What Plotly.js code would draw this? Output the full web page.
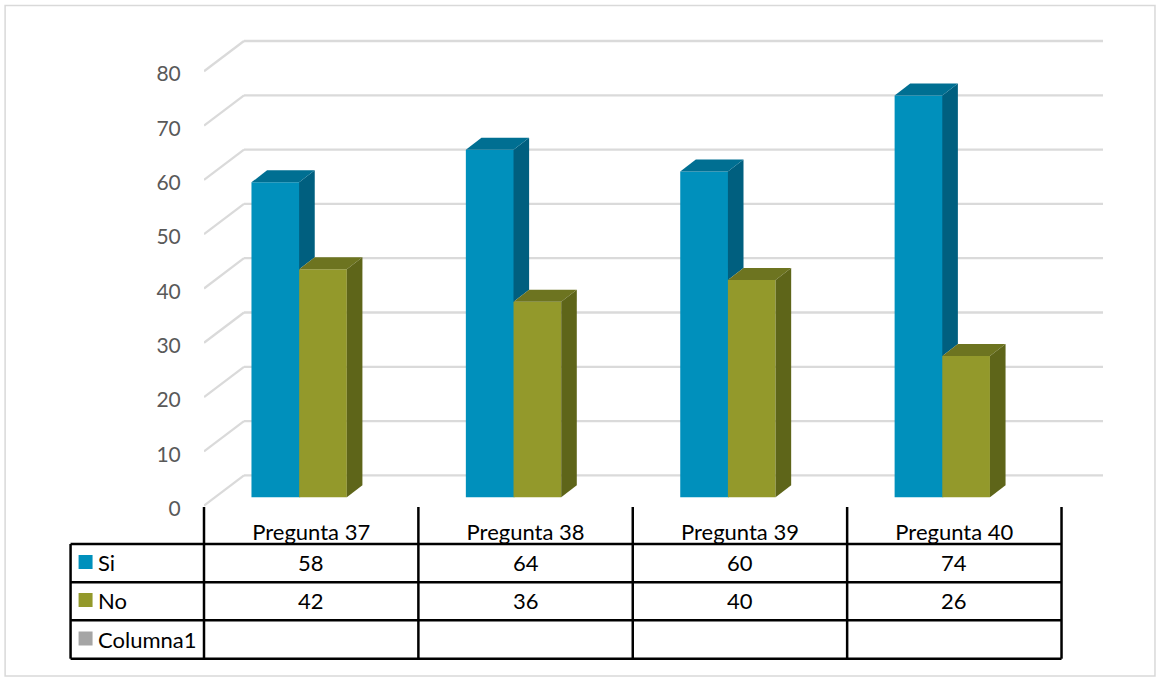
<!DOCTYPE html>
<html>
<head>
<meta charset="utf-8">
<script src="https://cdn.plot.ly/plotly-3.0.1.min.js"></script>
<style>html,body{margin:0;padding:0;background:#fff}#chart{width:1156px;height:677px}</style>
</head>
<body>
<div id="chart"></div>
<script>
// Survey answers per question
const categories = ['Pregunta 37', 'Pregunta 38', 'Pregunta 39', 'Pregunta 40'];
const si = [58, 64, 60, 74];
const no = [42, 36, 40, 26];
const yTicks = [0, 10, 20, 30, 40, 50, 60, 70, 80];
const tableRows = ['Si', 'No', 'Columna1'];

// Plot frame in page pixels
const W = 1156, H = 677;
const frame = {l: 203.5, r: 1103, t: 30, b: 512};
const tableTop = 507;
const pxPerCat = 214.5, pxPerUnit = 5.43;
const barZeroPx = 497.3;

const xRange = [-0.5, -0.5 + (frame.r - frame.l) / pxPerCat];
const yRange = [(barZeroPx - frame.b) / pxPerUnit, (barZeroPx - frame.t) / pxPerUnit];
const frontZeroPx = 505.7;   // where the front end of the zero gridline sits
const labelZeroPx = 508.5;   // baseline for the value-axis labels
const y2Range = [(labelZeroPx - frame.b) / pxPerUnit, (labelZeroPx - frame.t) / pxPerUnit];

const paperY = p => (frame.b - p) / (frame.b - frame.t);
const paperX = p => (p - frame.l) / (frame.r - frame.l);

// Pseudo-3D depth of the columns, in axis units
const dx = 15.6 / pxPerCat, dy = 12 / pxPerUnit;
const barW = 47.7 / pxPerCat;
const siOffset = -59.75 / pxPerCat, noOffset = siOffset + barW;

const colors = {
  si: {front: '#0090BC', top: '#006F92', side: '#005F7F'},
  no: {front: '#93992B', top: '#6D7420', side: '#5E6519'},
  blank: '#A5A5A5'
};

function face(xs, ys, color) {
  return {type: 'scatter', mode: 'lines', x: xs, y: ys, fill: 'toself', fillcolor: color,
          line: {width: 0, color: color}, hoverinfo: 'skip', showlegend: false};
}

const traces = [
  {type: 'bar', name: 'Si', x: categories.map((_, i) => i), y: si, offset: siOffset, width: barW + 1 / pxPerCat,
   marker: {color: colors.si.front, line: {width: 0}}},
  {type: 'bar', name: 'No', x: categories.map((_, i) => i), y: no, offset: noOffset, width: barW,
   marker: {color: colors.no.front, line: {width: 0}}},
  {type: 'scatter', x: [], y: [], yaxis: 'y2', showlegend: false, hoverinfo: 'skip'}
];

categories.forEach((_, i) => {
  const a = i + siOffset, b = a + barW, c = b + barW;
  const s = si[i], n = no[i];
  // The blue side panel stops where the neighbouring column starts hiding it
  traces.push(face([b, b + dx, b + dx, b, b], [s, s + dy, n + dy, n, s], colors.si.side));
  traces.push(face([a, a + dx, b + dx, b, a], [s, s + dy, s + dy, s, s], colors.si.top));
  traces.push(face([b, b + dx, c + dx, c, b], [n, n + dy, n + dy, n, n], colors.no.top));
  traces.push(face([c, c + dx, c + dx, c, c], [n, n + dy, dy, 0, n], colors.no.side));
});

const shapes = [];

// Chart border
shapes.push({type: 'rect', xref: 'paper', yref: 'paper',
  x0: paperX(4.5), x1: paperX(1155), y0: paperY(5.5), y1: paperY(676),
  line: {color: '#D9D9D9', width: 1.5}, layer: 'below'});

// Gridlines: floor-side diagonal plus back-wall run
const frontDrop = (frontZeroPx - barZeroPx) / pxPerUnit;
const wallRise = 21.9 / pxPerUnit;
const wallX = xRange[0] + 40 / pxPerCat;
yTicks.forEach(v => {
  const grid = {color: '#DADADA', width: 2.3};
  shapes.push({type: 'line', xref: 'x', yref: 'y', layer: 'below', line: grid,
    x0: xRange[0], y0: v - frontDrop, x1: wallX, y1: v + wallRise});
  shapes.push({type: 'line', xref: 'x', yref: 'y', layer: 'below', line: grid,
    x0: wallX, y0: v + wallRise, x1: xRange[1], y1: v + wallRise});
});

// Data table rules
const rowLines = [544, 582.3, 620.3, 658.7];
const tableLeft = 70;
const tableLine = {color: '#000', width: 2.5};
rowLines.forEach(p => shapes.push({type: 'line', xref: 'paper', yref: 'paper', line: tableLine,
  x0: paperX(tableLeft), x1: paperX(1061.5), y0: paperY(p), y1: paperY(p)}));
shapes.push({type: 'line', xref: 'paper', yref: 'paper', line: tableLine,
  x0: paperX(tableLeft), x1: paperX(tableLeft), y0: paperY(rowLines[0]), y1: paperY(rowLines[3])});
for (let i = 0; i <= categories.length; i++) {
  const x = frame.l + i * pxPerCat;
  shapes.push({type: 'line', xref: 'paper', yref: 'paper', line: tableLine,
    x0: paperX(x), x1: paperX(x), y0: paperY(tableTop), y1: paperY(rowLines[3])});
}

// Legend keys inside the table
const keyColors = [colors.si.front, colors.no.front, colors.blank];
const rowCentres = [562.5, 600.5, 639];
tableRows.forEach((_, r) => shapes.push({type: 'rect', xref: 'paper', yref: 'paper', layer: 'above',
  x0: paperX(78), x1: paperX(92), y0: paperY(rowCentres[r] - 7.5), y1: paperY(rowCentres[r] + 6.5),
  fillcolor: keyColors[r], line: {width: 0}}));

// Table text
const tableFont = {family: 'Lato, sans-serif', size: 22, color: '#000'};
const annotations = [];
tableRows.forEach((label, r) => annotations.push({xref: 'paper', yref: 'paper',
  x: paperX(95), y: paperY(rowCentres[r]), text: label, showarrow: false,
  xanchor: 'left', yanchor: 'middle', font: tableFont}));
[si, no].forEach((vals, r) => vals.forEach((v, i) => annotations.push({xref: 'x', yref: 'paper',
  x: i, y: paperY(rowCentres[r]), text: String(v), showarrow: false,
  xanchor: 'center', yanchor: 'middle', font: tableFont})));

const layout = {
  width: W, height: H,
  margin: {l: frame.l, r: W - frame.r, t: frame.t, b: H - frame.b, pad: 0},
  paper_bgcolor: '#fff', plot_bgcolor: '#fff',
  showlegend: false,
  xaxis: {range: xRange, tickmode: 'array', tickvals: categories.map((_, i) => i), ticktext: categories,
    showgrid: false, zeroline: false, showline: false, ticks: 'outside', ticklen: 1,
    tickcolor: 'rgba(0,0,0,0)', tickfont: tableFont, tickangle: 0},
  yaxis: {range: yRange, showgrid: false, zeroline: false, showline: false, showticklabels: false, ticks: ''},
  yaxis2: {range: y2Range, overlaying: 'y', side: 'left', tickmode: 'array', tickvals: yTicks,
    showgrid: false, zeroline: false, showline: false, ticks: 'outside', ticklen: 18,
    tickcolor: 'rgba(0,0,0,0)', tickfont: {family: 'Lato, sans-serif', size: 21, color: '#595959'}},
  shapes: shapes,
  annotations: annotations,
  hovermode: false
};

Plotly.newPlot('chart', traces, layout, {displayModeBar: false, staticPlot: true});
</script>
</body>
</html>
